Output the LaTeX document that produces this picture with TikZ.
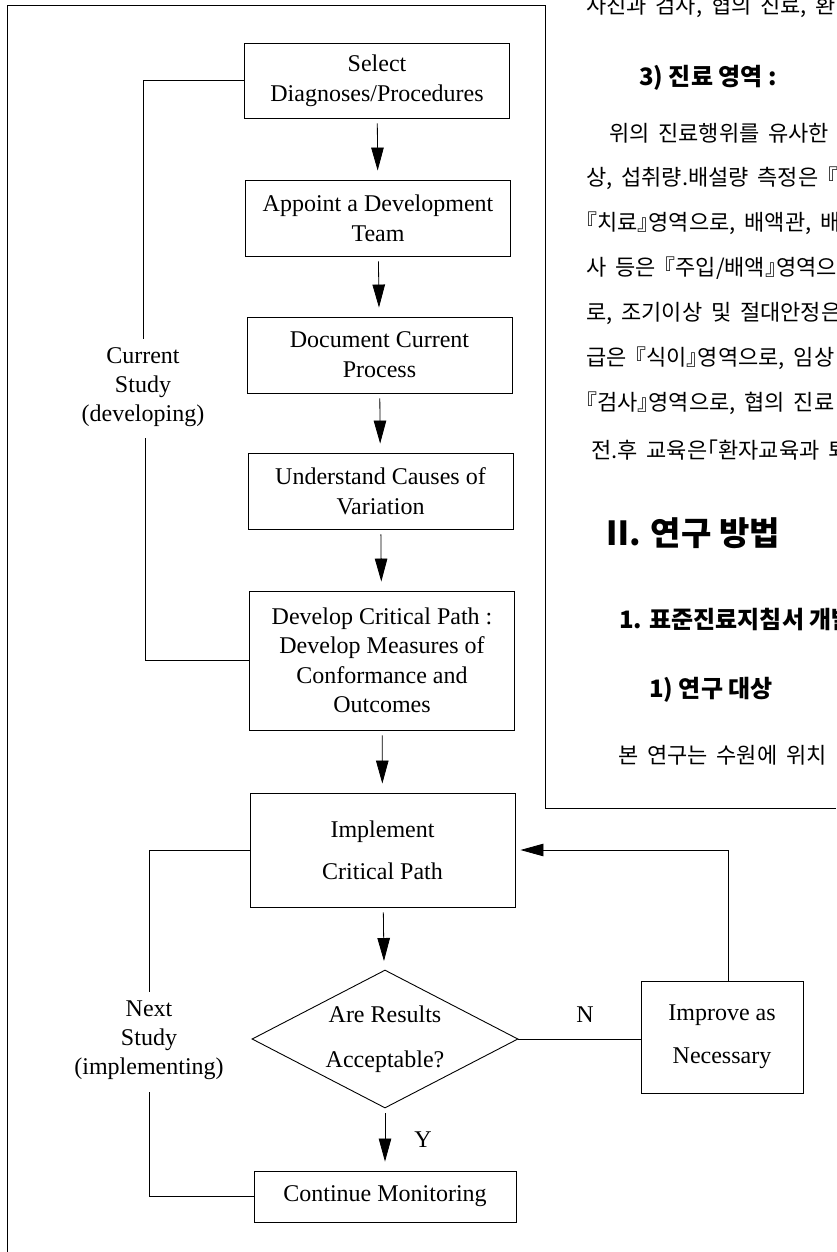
\documentclass[tikz,border=0pt]{standalone}
\usepackage{fontspec}
\setmainfont{Liberation Serif}
\newfontfamily\kr{Noto Sans CJK KR}
\newfontfamily\krh[RawFeature=+halt]{Noto Sans CJK KR}
\newcommand\krbodyfont{\krh\fontsize{22}{28}\selectfont\spaceskip 0.4em plus 0.1em\relax}
\usetikzlibrary{shapes.geometric,arrows.meta}
\begin{document}
\begin{tikzpicture}[x=1pt,y=-1pt,
  every node/.style={inner sep=0pt},
  fbox/.style={draw, line width=0.9pt, minimum width=265pt, align=center, font=\fontsize{24}{30}\selectfont},
  arr/.style={line width=0.8pt, -{Triangle[length=23pt,width=12.5pt]}, shorten <=5pt, shorten >=9pt},
  link/.style={line width=0.7pt},
  lbl/.style={align=center, font=\fontsize{24}{29}\selectfont},
  frame/.style={line width=0.7pt},
  kbody/.style={anchor=west, font=\krbodyfont},
  khead/.style={anchor=west, font=\kr\bfseries\fontsize{24}{28}\selectfont},
]
\useasboundingbox[fill=white] (0,0) rectangle (836,1252);

% outer frame lines
\draw[frame] (7,1252) -- (7,5) -- (545,5) -- (545,808) -- (836,808);

% Korean text column
\node[kbody] (k1) at (586,6) {사진과 검사, 협의 진료, 환};
\node[khead] (k2) at (639,78) {3) 진료 영역 :};
\node[kbody] (k3) at (609,133) {위의 진료행위를 유사한 군};
\node[kbody] (k4) at (586,178) {상, 섭취량.배설량 측정은 『};
\node[kbody] (k5) at (586,223) {『치료』영역으로, 배액관, 배};
\node[kbody] (k6) at (586,268) {사 등은 『주입/배액』영역으로};
\node[kbody] (k7) at (586,313) {로, 조기이상 및 절대안정은};
\node[kbody] (k8) at (586,358) {급은 『식이』영역으로, 임상};
\node[kbody] (k9) at (586,403) {『검사』영역으로, 협의 진료};
\node[kbody] (k10) at (591,450) {전.후 교육은「환자교육과 퇴};
\node[anchor=west, font=\kr\bfseries\fontsize{33}{40}\selectfont] (k11) at (601,533) {Ⅱ\kern-0.15em. 연구 방법};
\node[khead] (k12) at (619,620) {1. 표준진료지침서 개발};
\node[khead] (k13) at (649,690) {1) 연구 대상};
\node[kbody] (k14) at (618,755) {본 연구는 수원에 위치};

% flowchart boxes
\node[fbox, minimum height=75pt] (sel) at (377,80.5) {Select\\Diagnoses/Procedures};
\node[fbox, minimum height=76pt] (app) at (378,218) {Appoint a Development\\Team};
\node[fbox, minimum height=76pt] (doc) at (379.5,355) {Document Current\\Process};
\node[fbox, minimum height=76pt] (und) at (380.5,491) {Understand Causes of\\Variation};
\node[fbox, minimum height=139pt, font=\fontsize{24}{29.5}\selectfont] (dev) at (382,660.5)
  {Develop Critical Path :\\Develop Measures of\\Conformance and\\Outcomes};
\node[fbox, minimum height=114pt, font=\fontsize{24}{42}\selectfont] (impl) at (382.5,850) {Implement\\Critical Path};
\node[draw, line width=0.9pt, diamond, aspect=1.93, minimum width=266pt, minimum height=138pt,
  align=center, font=\fontsize{24}{45}\selectfont] (dia) at (385,1039) {Are Results\\Acceptable?};
\node[fbox, minimum width=162pt, minimum height=112pt, font=\fontsize{24}{43}\selectfont] (imp) at (722,1037) {Improve as\\Necessary};
\node[fbox, minimum width=262pt, minimum height=51pt] (cont) at (385,1196.5) {Continue Monitoring};

% main arrows
\draw[arr] (sel) -- (app);
\draw[arr] (app) -- (doc);
\draw[arr] (doc) -- (und);
\draw[arr] (und) -- (dev);
\draw[arr] (dev) -- (impl);
\draw[arr] (impl) -- (dia);
\draw[arr] (dia) -- (cont);

% N branch and feedback
\draw[link] (dia.east) -- (dia.east -| imp.west);
\draw[line width=0.8pt, -{Triangle[length=23pt,width=12.5pt]}, shorten >=5pt] (imp.north) ++(6,0) |- (impl.east);
\node[font=\fontsize{24}{29}\selectfont] (nlab) at (585,1015) {N};
\node[font=\fontsize{24}{29}\selectfont] (ylab) at (423,1140) {Y};

% current study bracket
\coordinate (cs1) at (143,339);
\coordinate (cs2) at (145,438);
\node[lbl] (cur) at (143,387) {Current\\Study\\(developing)};
\draw[link] (sel.west) -| (cs1);
\draw[link] (cs2) |- (dev.west);

% next study bracket
\coordinate (ns1) at (149,992);
\coordinate (ns2) at (149,1092);
\node[lbl] (nxt) at (149,1040) {Next\\Study\\(implementing)};
\draw[link] (impl.west) -| (ns1);
\draw[link] (ns2) |- (cont.west);
\end{tikzpicture}
\end{document}
